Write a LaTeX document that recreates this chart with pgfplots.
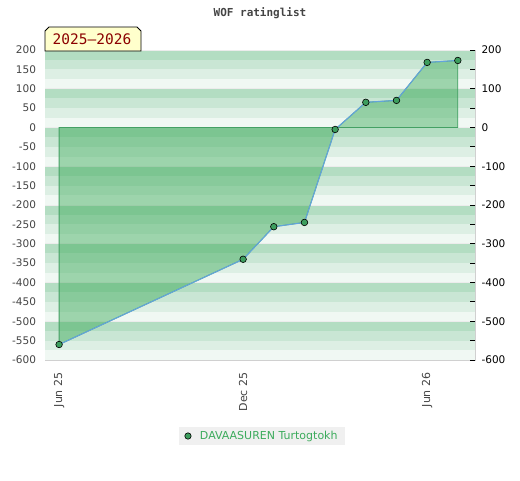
\documentclass[border=0pt]{standalone}
\usepackage{fontspec}
\setmainfont{DejaVu Sans}
\newfontfamily\monofont{DejaVu Sans Mono}
\usepackage{pgfplots}
\pgfplotsset{compat=1.18}
\definecolor{sA}{HTML}{B3DDC2}
\definecolor{sB}{HTML}{C9E6D4}
\definecolor{sC}{HTML}{DDEFE4}
\definecolor{sD}{HTML}{F0F8F3}
\definecolor{fillgreen}{RGB}{60,170,89}
\definecolor{edgegreen}{HTML}{44A064}
\definecolor{lineblue}{HTML}{63A4DC}
\definecolor{markgreen}{HTML}{3D9E5E}
\definecolor{legtext}{HTML}{3CAB5C}
\definecolor{leggray}{HTML}{F0F0F0}
\definecolor{labgray}{HTML}{444444}
\definecolor{bordergray}{HTML}{D0D0D0}
\definecolor{yearbox}{HTML}{FFFFCC}
\definecolor{yeartext}{HTML}{8B0000}
\begin{document}
\begin{tikzpicture}[x=1pt,y=1pt]
\useasboundingbox (0,0) rectangle (520,-480);
\begin{axis}[
  scale only axis, width=430pt, height=310pt,
  at={(45pt,-360pt)}, anchor=south west,
  xmin=-0.46, xmax=13.56, ymin=-600, ymax=200,
  axis line style={draw=bordergray},
  /pgf/number format/assume math mode=true,
  xtick={0,6,12}, xticklabels={Jun 25,Dec 25,Jun 26},
  xticklabel style={font=\fontsize{11}{13}\selectfont, text=labgray, yshift=-9pt, rotate=90, anchor=east},
  ytick={-600,-550,...,200},
  yticklabel style={font=\fontsize{10.5}{12}\selectfont, text=labgray, xshift=-5.5pt},
  major tick length=0pt,
  legend style={at={(0.5047,-0.2452)}, anchor=center, fill=leggray, draw=none,
    font=\fontsize{11}{13}\selectfont, text=legtext, inner xsep=5.8pt, inner ysep=2.5pt,
    nodes={inner sep=2pt}},
  legend cell align=left,
]
\pgfplotsinvokeforeach{200,100,0,-100,-200,-300,-400,-500}{
  \fill[sA] (axis cs:-0.46,#1) rectangle (axis cs:13.56,{#1-25});
  \fill[sB] (axis cs:-0.46,{#1-25}) rectangle (axis cs:13.56,{#1-50});
  \fill[sC] (axis cs:-0.46,{#1-50}) rectangle (axis cs:13.56,{#1-75});
  \fill[sD] (axis cs:-0.46,{#1-75}) rectangle (axis cs:13.56,{#1-100});
  \draw[white!85!gray, line width=0.8pt] (axis cs:-0.46,#1) -- (axis cs:13.56,#1);
}
\addplot[forget plot, fill=fillgreen, fill opacity=0.46, draw=edgegreen, line width=0.8pt]
  coordinates {(0,0) (0,-560) (6,-340) (7,-256) (8,-245) (9,-5) (10,65) (11,70) (12,168) (13,173) (13,0)} -- cycle;
\addplot[forget plot, color=lineblue, line width=1.1pt, mark=*, mark size=3.3pt,
  mark options={fill=markgreen, draw=black, line width=0.6pt}]
  coordinates {(0,-560) (6,-340) (7,-256) (8,-245) (9,-5) (10,65) (11,70) (12,168) (13,173)};
\addlegendimage{legend image code/.code={
  \path[draw=none, fill=none] (0pt,-0.1pt) rectangle (13.2pt,0.1pt);
  \filldraw[fill=markgreen, draw=black, line width=0.6pt] (3.2pt,0pt) circle (3.2pt);}}
\addlegendentry{DAVAASUREN Turtogtokh}
\end{axis}
\begin{axis}[
  scale only axis, width=430pt, height=310pt,
  at={(45pt,-360pt)}, anchor=south west,
  xmin=-0.46, xmax=13.56, ymin=-600, ymax=200,
  /pgf/number format/assume math mode=true,
  axis x line=none, axis y line*=right,
  y axis line style={draw=none},
  ytick={-600,-500,...,200},
  minor ytick={-550,-450,...,150},
  tick align=inside,
  major tick length=5pt, minor tick length=5pt,
  tick style={black, line width=0.8pt},
  yticklabel style={font=\fontsize{10.5}{12}\selectfont, text=black, xshift=3pt},
]
\end{axis}
\node[font=\monofont\bfseries\fontsize{11}{13}\selectfont, text=labgray] at (260,-13) {WOF ratinglist};
\filldraw[fill=yearbox, draw=black, line width=0.8pt]
  (45,-51) -- (45,-31) -- (49,-27) -- (137,-27) -- (141,-31) -- (141,-51) -- cycle;
\node[font=\monofont\fontsize{14.5}{16}\selectfont, text=yeartext] at (92,-39.5) {2025–2026};
\end{tikzpicture}
\end{document}
